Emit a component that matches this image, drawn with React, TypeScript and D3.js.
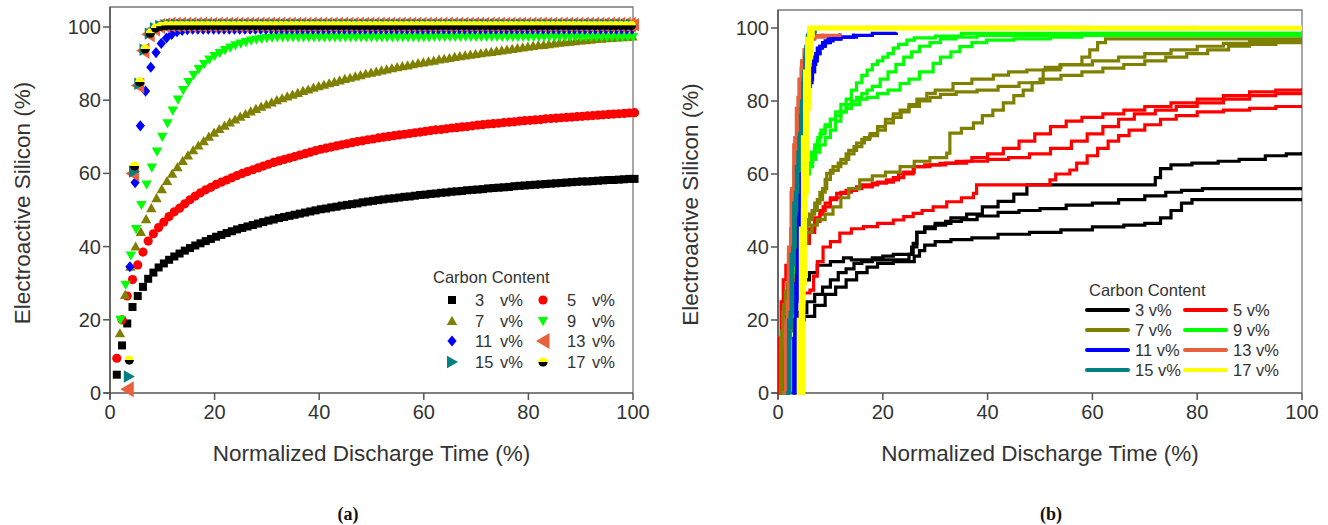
import React from 'react';
import * as d3 from 'd3';

const TICKS = [0, 20, 40, 60, 80, 100];
const CONTENTS = ['3', '5', '7', '9', '11', '13', '15', '17'];
const COLORS = ['#000000', '#ff0000', '#808000', '#00ff00', '#0000ff', '#e8603c', '#008080', '#ffff00'];
const SHAPES = ['square', 'circle', 'triUp', 'triDown', 'diamond', 'triLeft', 'triRight', 'half'];

// Panel (a): first x of each series; consecutive points 1 % apart
const A_X0 = [1.3, 1.3, 1.9, 2.0, 3.8, 3.3, 3.6, 3.7];

const A3 = [5, 13, 19, 23.5, 26.5, 29, 31.2, 32.9, 34.3, 35.4,
  36.4, 37.3, 38.1, 38.9, 39.6, 40.3, 40.9, 41.5, 42.1, 42.7,
  43.2, 43.7, 44.2, 44.7, 45.1, 45.5, 45.9, 46.3, 46.7, 47.1,
  47.4, 47.8, 48.1, 48.4, 48.7, 49.0, 49.3, 49.6, 49.9, 50.2,
  50.4, 50.7, 50.9, 51.2, 51.4, 51.6, 51.8, 52.1, 52.3, 52.5,
  52.7, 52.9, 53.1, 53.2, 53.4, 53.6, 53.7, 53.9, 54.1, 54.2,
  54.4, 54.5, 54.7, 54.8, 55.0, 55.1, 55.2, 55.4, 55.5, 55.6,
  55.7, 55.9, 56.0, 56.1, 56.2, 56.3, 56.5, 56.6, 56.7, 56.8,
  56.9, 57.0, 57.1, 57.2, 57.3, 57.4, 57.5, 57.6, 57.7, 57.8,
  57.8, 57.9, 58.0, 58.1, 58.2, 58.2, 58.3, 58.4, 58.5, 58.5];

const A5 = [9.5, 20, 26.5, 31, 35, 38.5, 41.5, 43.5, 45.2, 46.7,
  48.2, 49.5, 50.5, 51.7, 52.8, 53.8, 54.7, 55.5, 56.2, 57.0,
  57.6, 58.2, 58.8, 59.4, 60.0, 60.5, 61.0, 61.5, 62.0, 62.5,
  63.0, 63.4, 63.8, 64.2, 64.6, 65.0, 65.4, 65.8, 66.2, 66.6,
  66.9, 67.2, 67.5, 67.8, 68.1, 68.4, 68.7, 68.9, 69.2, 69.4,
  69.7, 69.9, 70.1, 70.3, 70.5, 70.7, 70.9, 71.1, 71.3, 71.5,
  71.7, 71.9, 72.0, 72.2, 72.4, 72.5, 72.7, 72.8, 73.0, 73.2,
  73.3, 73.5, 73.6, 73.7, 73.9, 74.0, 74.1, 74.3, 74.4, 74.5,
  74.6, 74.7, 74.9, 75.0, 75.1, 75.2, 75.3, 75.4, 75.5, 75.6,
  75.7, 75.8, 75.9, 76.0, 76.1, 76.2, 76.3, 76.4, 76.5, 76.6];

const A7 = [16.3, 26.8, 34.5, 40, 44, 47.5, 50.5, 53.2, 55.7, 57.9,
  59.9, 61.7, 63.4, 64.9, 66.3, 67.6, 68.8, 70.0, 71.1, 72.1,
  73.0, 73.9, 74.7, 75.5, 76.2, 76.9, 77.6, 78.2, 78.8, 79.4,
  80.0, 80.5, 81.0, 81.5, 82.0, 82.5, 82.9, 83.4, 83.8, 84.2,
  84.6, 85.0, 85.4, 85.8, 86.1, 86.5, 86.8, 87.2, 87.5, 87.8,
  88.1, 88.4, 88.7, 89.0, 89.3, 89.5, 89.8, 90.1, 90.3, 90.6,
  90.8, 91.1, 91.3, 91.5, 91.8, 92.0, 92.2, 92.4, 92.6, 92.8,
  93.0, 93.2, 93.4, 93.6, 93.8, 94.0, 94.2, 94.4, 94.6, 94.8,
  95.0, 95.1, 95.3, 95.5, 95.7, 95.8, 96.0, 96.1, 96.3, 96.4,
  96.5, 96.7, 96.8, 96.9, 97.0, 97.1, 97.2, 97.3, 97.4, 97.5];

const A9 = [20, 29.6, 37.6, 44.8, 51.4, 57, 61.6, 66, 70, 73.7,
  77.2, 80.2, 82.8, 85, 86.9, 88.5, 89.9, 91.1, 92.1, 92.9,
  93.7, 94.4, 95, 95.5, 95.9, 96.3, 96.6, 96.8, 97.0, 97.1,
  97.2, 97.2, 97.2, 97.2, 97.2, 97.2, 97.2, 97.2, 97.2, 97.2,
  97.2, 97.2, 97.2, 97.2, 97.2, 97.2, 97.2, 97.2, 97.2, 97.2,
  97.2, 97.2, 97.2, 97.2, 97.2, 97.2, 97.2, 97.2, 97.2, 97.2,
  97.3, 97.3, 97.3, 97.3, 97.3, 97.3, 97.3, 97.3, 97.3, 97.3,
  97.3, 97.3, 97.3, 97.3, 97.3, 97.3, 97.3, 97.3, 97.3, 97.3,
  97.3, 97.3, 97.3, 97.3, 97.3, 97.3, 97.3, 97.3, 97.3, 97.3,
  97.3, 97.3, 97.3, 97.3, 97.3, 97.3, 97.3, 97.3, 97.3];

const A11 = [34.5, 57.5, 73, 82.5, 89, 93, 95.5, 97, 98, 98.7,
  99.1, 99.3, 99.4, 99.4, 99.4, 99.4, 99.4, 99.4, 99.4, 99.4,
  99.4, 99.4, 99.4, 99.4, 99.4, 99.4, 99.4, 99.4, 99.4, 99.4,
  99.4, 99.4, 99.4, 99.4, 99.4, 99.4, 99.4, 99.4, 99.4, 99.4,
  99.4, 99.4, 99.4, 99.4, 99.4, 99.4, 99.4, 99.4, 99.4, 99.4,
  99.4, 99.4, 99.4, 99.4, 99.4, 99.4, 99.4, 99.4, 99.4, 99.4,
  99.4, 99.4, 99.4, 99.4, 99.4, 99.4, 99.4, 99.4, 99.4, 99.4,
  99.4, 99.4, 99.4, 99.4, 99.4, 99.4, 99.4, 99.4, 99.4, 99.4,
  99.4, 99.4, 99.4, 99.4, 99.4, 99.4, 99.4, 99.4, 99.4, 99.4,
  99.4, 99.4, 99.4, 99.4, 99.4, 99.4, 99.4];

const A13 = [1, 60, 84, 93.5, 98, 99.6, 100.3, 100.5, 100.6, 100.6,
  100.6, 100.6, 100.6, 100.6, 100.6, 100.6, 100.6, 100.6, 100.6, 100.6,
  100.6, 100.6, 100.6, 100.6, 100.6, 100.6, 100.6, 100.6, 100.6, 100.6,
  100.6, 100.6, 100.6, 100.6, 100.6, 100.6, 100.6, 100.6, 100.6, 100.6,
  100.6, 100.6, 100.6, 100.6, 100.6, 100.6, 100.6, 100.6, 100.6, 100.6,
  100.6, 100.6, 100.6, 100.6, 100.6, 100.6, 100.6, 100.6, 100.6, 100.6,
  100.6, 100.6, 100.6, 100.6, 100.6, 100.6, 100.6, 100.6, 100.6, 100.6,
  100.6, 100.6, 100.6, 100.6, 100.6, 100.6, 100.6, 100.6, 100.6, 100.6,
  100.6, 100.6, 100.6, 100.6, 100.6, 100.6, 100.6, 100.6, 100.6, 100.6,
  100.6, 100.6, 100.6, 100.6, 100.6, 100.6, 100.6, 100.6];

const A15 = [4.5, 60.5, 84.5, 93.8, 98.2, 99.7, 100.3, 100.5, 100.6, 100.6,
  100.6, 100.6, 100.6, 100.6, 100.6, 100.6, 100.6, 100.6, 100.6, 100.6,
  100.6, 100.6, 100.6, 100.6, 100.6, 100.6, 100.6, 100.6, 100.6, 100.6,
  100.6, 100.6, 100.6, 100.6, 100.6, 100.6, 100.6, 100.6, 100.6, 100.6,
  100.6, 100.6, 100.6, 100.6, 100.6, 100.6, 100.6, 100.6, 100.6, 100.6,
  100.6, 100.6, 100.6, 100.6, 100.6, 100.6, 100.6, 100.6, 100.6, 100.6,
  100.6, 100.6, 100.6, 100.6, 100.6, 100.6, 100.6, 100.6, 100.6, 100.6,
  100.6, 100.6, 100.6, 100.6, 100.6, 100.6, 100.6, 100.6, 100.6, 100.6,
  100.6, 100.6, 100.6, 100.6, 100.6, 100.6, 100.6, 100.6, 100.6, 100.6,
  100.6, 100.6, 100.6, 100.6, 100.6, 100.6, 100.6];

const A17 = [9, 62, 85, 94, 98.3, 99.7, 100.2, 100.4, 100.4, 100.4,
  100.4, 100.4, 100.4, 100.4, 100.4, 100.4, 100.4, 100.4, 100.4, 100.4,
  100.4, 100.4, 100.4, 100.4, 100.4, 100.4, 100.4, 100.4, 100.4, 100.4,
  100.4, 100.4, 100.4, 100.4, 100.4, 100.4, 100.4, 100.4, 100.4, 100.4,
  100.4, 100.4, 100.4, 100.4, 100.4, 100.4, 100.4, 100.4, 100.4, 100.4,
  100.4, 100.4, 100.4, 100.4, 100.4, 100.4, 100.4, 100.4, 100.4, 100.4,
  100.4, 100.4, 100.4, 100.4, 100.4, 100.4, 100.4, 100.4, 100.4, 100.4,
  100.4, 100.4, 100.4, 100.4, 100.4, 100.4, 100.4, 100.4, 100.4, 100.4,
  100.4, 100.4, 100.4, 100.4, 100.4, 100.4, 100.4, 100.4, 100.4, 100.4,
  100.4, 100.4, 100.4, 100.4, 100.4, 100.4, 100.4];

const A_SERIES = [A3, A5, A7, A9, A11, A13, A15, A17];

// Panel (b): three replicate step curves per carbon content, [x %, y %]
const B3a = [[0.6, 0], [0.8, 10], [1, 15], [1.5, 20], [2.5, 24], [3.5, 28], [4.5, 31], [6, 33], [7.5, 35], [10, 36], [12.5, 37], [14, 36.5], [24, 36.5], [25, 38], [25.8, 41], [26.5, 44], [28, 45.5], [30, 46.5], [33, 48], [36, 49], [39, 51], [42, 52.5], [45, 54.5], [47.5, 57], [71, 57], [72, 59], [73, 61.5], [75, 62.5], [79, 63], [84, 63.5], [88, 64], [93, 65], [97, 65.5], [100, 66]];
const B3b = [[1, 0], [1.2, 12], [1.6, 17], [2.5, 20], [4, 22], [5.5, 25], [7, 27], [8.5, 29], [10, 31], [11.5, 33], [13, 34], [14.5, 35.5], [16, 36], [18, 37], [20, 37.5], [22, 38], [24, 38], [25.5, 40], [26.5, 44], [28, 45], [30, 46], [32, 47], [35, 47.5], [38, 48.5], [42, 49.5], [46, 50], [50, 50.5], [55, 51.5], [60, 52], [65, 53], [70, 54], [74, 55], [77, 55.5], [81, 56], [100, 56]];
const B3c = [[1.4, 0], [1.6, 12], [2, 18], [3, 20], [5, 21], [7, 24], [9, 27], [11, 29], [13, 31], [15, 33], [17, 34.5], [19, 35.5], [22, 36], [25, 36], [26, 37.5], [27, 39], [28, 40.5], [30, 41.5], [33, 42], [37, 42.5], [42, 43.5], [48, 44], [54, 44.7], [60, 45.5], [66, 46], [70, 46.5], [73, 48], [75, 50], [77, 52], [79, 53], [100, 53]];

const B5a = [[0.1, 0], [0.3, 15], [0.6, 25], [1, 31], [1.5, 35], [2.3, 37.4], [3.5, 39], [4.8, 41], [6, 44], [7, 47], [8, 49], [8.6, 51], [10, 53], [11.2, 54.7], [13, 55.5], [15, 56.5], [18, 57.5], [20.7, 58.4], [23, 60], [25.8, 62], [28, 62.5], [30.9, 62.9], [34, 63.5], [37, 64.5], [40, 65.5], [43, 67], [46, 69], [49, 71], [52, 73], [55, 74.5], [58, 75.5], [62, 76.5], [66, 77.5], [70, 78.5], [75, 79.5], [80, 80.5], [85, 81.5], [90, 82.5], [95, 83], [100, 83.5]];
const B5b = [[0.2, 0], [0.4, 15], [0.8, 22], [1.3, 27], [2, 30], [3, 33], [4, 38], [5, 42], [6, 45], [7, 48], [8, 50], [9, 52], [10, 53.5], [12, 55], [14, 56], [16, 57], [19, 57.8], [22, 59], [24, 60.5], [26, 62], [29, 62.5], [32, 63], [36, 63.5], [40, 64], [44, 64.5], [48, 65.5], [52, 67], [56, 69], [59, 71], [62, 73], [65, 75], [68, 76.5], [72, 77.5], [76, 78.5], [80, 79.5], [85, 80.5], [90, 81.5], [95, 82], [100, 82.5]];
const B5c = [[0.4, 0], [0.6, 12], [1, 18], [1.5, 21], [2.3, 23], [2.8, 27.4], [6.1, 28.2], [6.8, 32], [7.5, 36], [8.6, 40], [10, 41.5], [11.8, 43.8], [14, 45], [16.3, 45.6], [19, 46.5], [22, 47.4], [24, 48.3], [25.8, 49.2], [27.5, 50], [29.6, 51], [32.2, 52.4], [35, 53.5], [37.3, 54.7], [37.9, 57], [50, 57], [51.9, 58.4], [53, 60], [55.7, 61.1], [57, 63], [59, 65], [61, 67], [63, 69], [65, 70.5], [67, 72], [70, 73.5], [73, 75], [76, 76], [80, 77], [85, 77.5], [90, 78], [95, 78.5], [100, 79]];

const B7a = [[0.3, 0], [0.5, 15], [0.9, 22], [1.4, 28], [2, 33], [2.8, 38], [3.6, 42], [4.5, 45], [5.5, 47.5], [6.5, 50], [7.5, 53], [8.5, 56], [9.3, 60.2], [10.5, 62], [12, 64], [13.5, 66.5], [15, 68.5], [16.5, 70], [17.6, 71.1], [19, 73], [20.5, 75], [22, 76.5], [23.3, 77.5], [25, 79], [26.5, 80.5], [28.4, 82.1], [30, 83], [33.4, 84.8], [37, 86], [41.1, 87.1], [44, 88], [47.5, 88.5], [51, 89.2], [54, 90], [57, 90], [58, 92], [59.5, 94], [61, 96], [62.5, 97], [100, 97]];
const B7b = [[0.4, 0], [0.7, 17], [1.1, 24], [1.7, 30], [2.4, 35], [3.2, 40], [4, 43], [5, 46], [6, 49], [7, 52], [8, 55], [9, 58.5], [10, 61], [11.5, 63], [13, 65.5], [14.5, 67.5], [16, 69.5], [17.5, 70.5], [19, 72], [20.5, 74], [22, 75.5], [23.5, 77], [25, 78.5], [27, 80], [29, 81], [31, 81.8], [34, 82.5], [38, 83], [42, 84], [46, 85], [50, 86], [54, 87], [58, 88], [62, 89], [66, 90], [70, 91], [74, 92], [78, 93], [82, 94], [86, 95], [90, 95.5], [95, 96], [100, 96.5]];
const B7c = [[0.5, 0], [0.8, 14], [1.3, 20], [2, 26], [2.8, 32], [3.6, 37], [4.5, 41], [5.5, 44], [6.5, 46], [7.5, 47.5], [9, 49], [10.5, 51], [12, 53.5], [13.5, 56], [15.6, 58.4], [18, 59.5], [20.5, 60.5], [23.3, 62], [26, 63.5], [29, 64.5], [32.2, 65.7], [32.8, 71.2], [35, 72.5], [37.3, 74], [39, 76], [41, 77.5], [43, 79.5], [45, 81.5], [46.8, 83], [48.5, 85], [50.6, 88.5], [53.8, 89.9], [60, 91], [65, 92], [70, 93], [75, 94], [80, 95], [85, 95.8], [90, 96.3], [95, 96.7], [100, 97]];

const B9a = [[1.4, 0], [1.8, 15], [2.2, 25], [2.6, 33], [3, 40], [3.5, 46], [4, 51], [4.5, 55], [5, 58], [5.5, 61], [6, 63], [6.5, 65], [7, 67], [7.5, 69], [8, 71], [9, 73], [10, 75], [11, 77], [12, 79], [13, 80.5], [14, 83], [15, 85], [16, 87], [17, 88.5], [18, 90], [19, 91], [20, 92], [21, 93], [22, 94.5], [23, 95.5], [24.6, 96.7], [26, 97.3], [30, 97.8], [35, 98.5], [100, 98.5]];
const B9b = [[1.6, 0], [2, 15], [2.4, 26], [2.8, 34], [3.2, 41], [3.7, 47], [4.2, 52], [4.7, 56], [5.2, 60], [5.8, 63], [6.4, 66], [7, 68], [7.6, 70], [8.2, 72], [9, 73.5], [10, 75], [11, 76], [12, 77], [13, 78], [14, 79], [15.6, 80.5], [17, 81], [19, 82], [21, 83], [23.3, 84.8], [25, 86], [27, 88], [29.6, 90.3], [31, 92], [33, 93.5], [34.7, 94.9], [37, 96], [39.8, 96.7], [45, 97], [52, 97.5], [58, 98.5], [100, 98.5]];
const B9c = [[1.5, 0], [1.9, 17], [2.3, 28], [2.7, 36], [3.2, 43], [3.7, 49], [4.2, 53], [4.8, 57], [5.4, 60], [6, 62], [6.6, 64], [7.2, 66], [8, 68], [9, 70], [10, 72], [11, 74.5], [12, 77], [13, 79], [14, 80], [15, 81], [16, 82], [17, 83], [18, 84], [19.5, 86], [21, 88], [22.5, 90], [24, 92], [25.5, 93.5], [27, 95], [29, 96], [31, 97], [34, 97.5], [38, 98], [100, 98]];

const B11a = [[2.6, 0], [3, 15], [3.3, 30], [3.6, 45], [4, 58], [4.5, 68], [5, 75], [5.5, 80], [6, 85], [6.5, 88], [7, 91], [7.5, 93], [8, 95], [9, 96], [10, 97], [12, 97.5], [14, 97.5], [15, 98], [18, 98.5], [22.6, 98.8]];
const B11b = [[2.8, 0], [3.2, 20], [3.6, 40], [4.2, 60], [4.8, 72], [5.4, 80], [6, 86], [6.6, 90], [7.2, 93], [8, 95], [9, 96.5], [10.5, 97], [12, 97.5], [14.4, 98.5]];
const B11c = [[2.9, 0], [3.3, 25], [3.8, 48], [4.4, 66], [5, 77], [5.6, 84], [6.2, 89], [6.8, 92], [7.5, 94.5], [8.5, 96], [9.5, 97], [11.8, 98.5]];

const B13a = [[1, 0], [1.5, 20], [2, 40], [2.5, 55], [3, 68], [3.5, 78], [4, 86], [4.5, 91], [5, 94], [5.5, 96], [6, 97], [7, 97.5], [9, 98], [11.8, 98.5]];
const B13b = [[1.2, 0], [1.8, 25], [2.4, 45], [3, 62], [3.6, 75], [4.2, 85], [4.8, 91], [5.4, 95], [6, 97], [7, 98], [8.5, 98.5]];
const B13c = [[0.9, 0], [1.4, 18], [2, 38], [2.6, 56], [3.2, 70], [3.8, 81], [4.4, 89], [5, 94], [5.8, 97], [6.8, 98]];

const B15a = [[1.5, 0], [2, 20], [2.5, 38], [3, 52], [3.5, 62], [4, 70], [4.4, 78], [4.8, 86], [5.2, 93], [5.6, 98], [6, 100], [7.4, 100]];
const B15b = [[1.8, 0], [2.3, 22], [2.8, 40], [3.3, 55], [3.8, 66], [4.3, 76], [4.7, 85], [5.1, 92], [5.5, 97], [6, 99], [7.4, 99]];
const B15c = [[1.6, 0], [2.1, 18], [2.6, 35], [3.1, 50], [3.6, 61], [4.1, 71], [4.5, 80], [4.9, 88], [5.3, 95], [5.8, 98.5], [7, 99]];

const B17a = [[3.6, 0], [4, 20], [4.4, 45], [4.8, 70], [5.2, 88], [5.6, 97], [6, 100], [100, 100]];
const B17b = [[4.0, 0], [4.4, 25], [4.8, 50], [5.2, 75], [5.6, 90], [6, 97], [6.4, 100], [60, 100]];
const B17c = [[4.5, 0], [4.8, 30], [5.1, 55], [5.5, 78], [5.9, 92], [6.3, 98], [6.6, 100], [80, 100]];

const B_SERIES = [
  [B3a, B3b, B3c], [B5a, B5b, B5c], [B7a, B7b, B7c], [B9a, B9b, B9c],
  [B11a, B11b, B11c], [B13a, B13b, B13c], [B15a, B15b, B15c], [B17a, B17b, B17c],
];

const FONT = '"Liberation Sans", Arial, Helvetica, sans-serif';
const TXT = '#333';

function Marker({ shape, x, y, color }: { shape: string; x: number; y: number; color: string }) {
  switch (shape) {
    case 'square':
      return <rect x={x - 4} y={y - 4} width={8} height={8} fill={color} />;
    case 'circle':
      return <circle cx={x} cy={y} r={4.6} fill={color} />;
    case 'triUp':
      return <path d={`M${x},${y - 5.2}L${x + 5.2},${y + 4}L${x - 5.2},${y + 4}Z`} fill={color} />;
    case 'triDown':
      return <path d={`M${x},${y + 5.2}L${x + 5.2},${y - 4}L${x - 5.2},${y - 4}Z`} fill={color} />;
    case 'diamond':
      return <path d={`M${x},${y - 5.6}L${x + 4.6},${y}L${x},${y + 5.6}L${x - 4.6},${y}Z`} fill={color} />;
    case 'triLeft':
      return <path d={`M${x - 7},${y}L${x + 6.5},${y - 8}L${x + 6.5},${y + 8}Z`} fill={color} />;
    case 'triRight':
      return <path d={`M${x + 6},${y}L${x - 5},${y - 6.2}L${x - 5},${y + 6.2}Z`} fill={color} />;
    case 'half':
    default:
      return (
        <g>
          <path d={`M${x - 4.6},${y}A4.6,4.6 0 0 1 ${x + 4.6},${y}Z`} fill="#ffff00" />
          <path d={`M${x - 4.6},${y}A4.6,4.6 0 0 0 ${x + 4.6},${y}Z`} fill="#000" />
        </g>
      );
  }
}

function Axes({ xs, ys, top, title }: { xs: any; ys: any; top: number; title: string }) {
  const [x0, x1] = xs.range();
  const [y0] = ys.range();
  return (
    <g>
      <path d={`M${x0},${y0}V${top}H${x1}V${y0}`} fill="none" stroke="#7a7a7a" strokeWidth={1.3} />
      <line x1={x0 - 6} x2={x1} y1={y0} y2={y0} stroke="#555" strokeWidth={1.6} />
      <line x1={x0} x2={x0} y1={y0 + 6} y2={top} stroke="#555" strokeWidth={1.6} />
      {TICKS.map((t) => (
        <g key={'x' + t}>
          <line x1={xs(t)} x2={xs(t)} y1={y0} y2={y0 + 7} stroke="#555" strokeWidth={1.5} />
          <text x={xs(t)} y={y0 + 26} textAnchor="middle" fontSize={20} fill={TXT} fontFamily={FONT}>{t}</text>
        </g>
      ))}
      {TICKS.map((t) => (
        <g key={'y' + t}>
          <line x1={x0 - 7} x2={x0} y1={ys(t)} y2={ys(t)} stroke="#555" strokeWidth={1.5} />
          <text x={x0 - 9} y={ys(t) + 7} textAnchor="end" fontSize={20} fill={TXT} fontFamily={FONT}>{t}</text>
        </g>
      ))}
      <text x={(x0 + x1) / 2} y={y0 + 68} textAnchor="middle" fontSize={22.5} fill={TXT} fontFamily={FONT}>Normalized Discharge Time (%)</text>
      <text transform={`translate(${x0 - 80},${(y0 + top) / 2 + 3}) rotate(-90)`} textAnchor="middle" fontSize={22.5} fill={TXT} fontFamily={FONT}>{title}</text>
    </g>
  );
}

export default function App() {
  const xa = d3.scaleLinear().domain([0, 100]).range([110, 633]);
  const ya = d3.scaleLinear().domain([0, 100]).range([393, 27]);
  const xb = d3.scaleLinear().domain([0, 100]).range([778, 1302]);
  const yb = d3.scaleLinear().domain([0, 100]).range([393, 28]);
  const line = d3.line<number[]>().x((d) => xb(d[0])).y((d) => yb(d[1])).curve(d3.curveStepAfter);

  const legendRowsA = [300, 321, 341, 362];
  const legendRowsB = [310, 330, 350, 370];

  return (
    <div style={{ position: 'absolute', left: 0, top: 0 }}>
      <svg width={1328} height={525} style={{ display: 'block', background: '#fff' }}>
        <defs>
          <clipPath id="clipA"><rect x={104} y={7} width={535} height={392} /></clipPath>
          <clipPath id="clipB"><rect x={778} y={10} width={524} height={385} /></clipPath>
        </defs>

        {/* Panel (a) */}
        <Axes xs={xa} ys={ya} top={7} title="Electroactive Silicon (%)" />
        <g clipPath="url(#clipA)">
          {A_SERIES.map((vals, s) => (
            <g key={s}>
              {vals.map((v, i) => {
                const xv = A_X0[s] + i;
                if (xv > 100.5) return null;
                return <Marker key={i} shape={SHAPES[s]} x={xa(xv)} y={ya(v)} color={COLORS[s]} />;
              })}
            </g>
          ))}
        </g>
        <text x={433} y={283} fontSize={16.5} fill={TXT} fontFamily={FONT}>Carbon Content</text>
        {CONTENTS.map((c, i) => {
          const col = i % 2;
          const row = Math.floor(i / 2);
          const mx = col === 0 ? 452 : 543;
          const tx = col === 0 ? 475 : 567;
          const y = legendRowsA[row];
          return (
            <g key={c}>
              <Marker shape={SHAPES[i]} x={mx} y={y} color={COLORS[i]} />
              <text x={tx} y={y + 6} fontSize={16.5} fill={TXT} fontFamily={FONT}>{c}</text>
              <text x={tx + 25} y={y + 6} fontSize={16.5} fill={TXT} fontFamily={FONT}>v%</text>
            </g>
          );
        })}

        {/* Panel (b) */}
        <Axes xs={xb} ys={yb} top={10} title="Electroactive Silicon (%)" />
        <g clipPath="url(#clipB)">
          {B_SERIES.map((reps, s) => (
            <g key={s}>
              {reps.map((pts, r) => (
                <path key={r} d={line(pts) || ''} fill="none" stroke={COLORS[s]} strokeWidth={s === 7 ? 4.5 : 3.2} strokeLinejoin="miter" />
              ))}
            </g>
          ))}
        </g>
        <text x={1089} y={296} fontSize={16.5} fill={TXT} fontFamily={FONT}>Carbon Content</text>
        {CONTENTS.map((c, i) => {
          const col = i % 2;
          const row = Math.floor(i / 2);
          const lx = col === 0 ? 1087 : 1185;
          const tx = col === 0 ? 1135 : 1233;
          const y = legendRowsB[row];
          return (
            <g key={c}>
              <line x1={lx} x2={lx + 41} y1={y} y2={y} stroke={COLORS[i]} strokeWidth={4} strokeLinecap="round" />
              <text x={tx} y={y + 6} fontSize={16.5} fill={TXT} fontFamily={FONT}>{c} v%</text>
            </g>
          );
        })}

        <text x={348} y={520} textAnchor="middle" fontSize={18} fontWeight="bold" fontFamily='"Liberation Serif", "Times New Roman", serif' fill="#111">(a)</text>
        <text x={1051} y={520} textAnchor="middle" fontSize={18} fontWeight="bold" fontFamily='"Liberation Serif", "Times New Roman", serif' fill="#111">(b)</text>
      </svg>
    </div>
  );
}
